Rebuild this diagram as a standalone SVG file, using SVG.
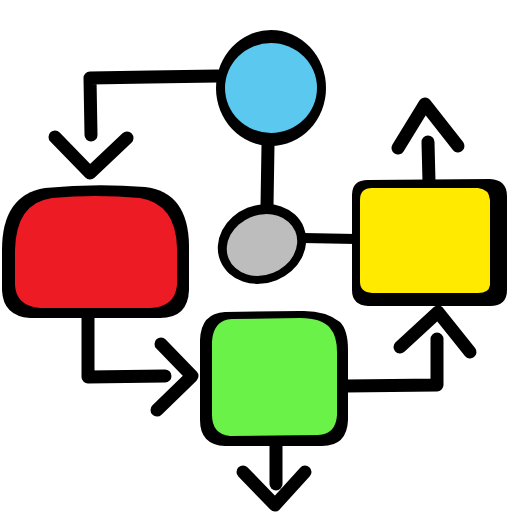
<svg xmlns="http://www.w3.org/2000/svg" width="512" height="512" viewBox="0 0 512 512">
<style>
.ln{fill:none;stroke:#000;stroke-width:13;stroke-linecap:round;stroke-linejoin:round}
.ol{fill:#000}
</style>
<rect width="512" height="512" fill="#fff"/>
<g id="connectors">
<path class="ln" d="M218 76 L150 77 L90 78 L91 135"/>
<path class="ln" d="M55 137 L90 173 L127 138"/>
<path class="ln" d="M88 318 L88 377 L165 376"/>
<path class="ln" d="M161 344 L192 376 L157 410"/>
<path class="ln" d="M268 145 L267 206"/>
<path class="ln" style="stroke-width:10" d="M303 238 L356 239"/>
<path class="ln" d="M429 182 L428 142"/>
<path class="ln" d="M398 148 L425 104 L458 146"/>
<path class="ln" d="M346 386 L437 385 L437 339"/>
<path class="ln" d="M400 347 L438 312 L470 352"/>
<path class="ln" d="M276 446 L276 484"/>
<path class="ln" d="M243 472 L275 505 L305 472"/>
</g>
<g id="blue">
<ellipse class="ol" cx="271" cy="88" rx="55" ry="58"/>
<ellipse cx="271" cy="88" rx="46" ry="45" fill="#5BC8F0"/>
</g>
<g id="gray">
<ellipse class="ol" cx="262" cy="244" rx="45" ry="39" transform="rotate(-22 262 244)"/>
<ellipse cx="262" cy="245" rx="36" ry="30" fill="#BDBDBD" transform="rotate(-22 262 245)"/>
</g>
<g id="red">
<path class="ol" d="M2 250 Q2 195 45 188 Q95 183 145 187 Q188 192 189 245 L189 290 Q188 318 160 318 L30 318 Q3 316 2 290 Z"/>
<path d="M15 250 Q16 203 52 198 Q95 194 140 198 Q176 204 177 248 L177 285 Q175 307 150 308 L40 308 Q16 306 15 285 Z" fill="#EC1B24"/>
</g>
<g id="green">
<path class="ol" d="M200 340 Q201 313 225 312 L300 311 Q325 310 340 322 Q348 330 348 350 L348 420 Q347 446 322 446 L225 446 Q200 445 200 420 Z"/>
<path d="M212 342 Q213 320 232 319 L300 318 Q322 318 330 328 Q337 336 337 352 L337 415 Q336 434 318 435 L230 436 Q212 434 212 415 Z" fill="#6BF248"/>
</g>
<g id="yellow">
<path class="ol" d="M352 195 Q352 180 368 180 L490 179 Q507 180 507 196 L507 290 Q507 306 490 306 L368 306 Q352 305 352 290 Z"/>
<path d="M360 200 Q360 188 372 188 L478 188 Q489 189 490 200 L490 285 Q489 293 478 293 L372 293 Q360 292 360 282 Z" fill="#FFEA00"/>
</g>
</svg>
